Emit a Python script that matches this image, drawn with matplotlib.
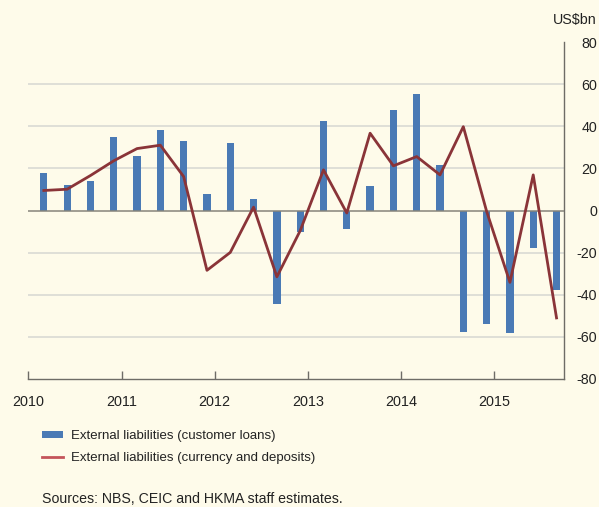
import numpy as np
import matplotlib.pyplot as plt
from matplotlib.patches import Patch
from matplotlib.lines import Line2D

plt.rcParams['font.family'] = ['Liberation Sans', 'DejaVu Sans']

# quarterly data, 2010Q1 - 2015Q3 (US$bn)
quarters = ["2010Q1", "2010Q2", "2010Q3", "2010Q4",
            "2011Q1", "2011Q2", "2011Q3", "2011Q4",
            "2012Q1", "2012Q2", "2012Q3", "2012Q4",
            "2013Q1", "2013Q2", "2013Q3", "2013Q4",
            "2014Q1", "2014Q2", "2014Q3", "2014Q4",
            "2015Q1", "2015Q2", "2015Q3"]
customer_loans = [17.7, 12.2, 13.8, 34.8, 25.9, 38.1, 32.9, 7.8, 31.9, 5.4, -44.4, -10.3,
                  42.5, -8.8, 11.7, 47.6, 55.2, 21.5, -57.6, -53.7, -58.0, -18.0, -37.6]
currency_deposits = [9.5, 10.1, 16.6, 23.6, 29.4, 31.0, 16.1, -28.4, -19.9, 1.6, -31.5, -9.6,
                     19.3, -1.2, 36.7, 21.2, 25.6, 16.9, 39.8, -0.4, -34.1, 16.9, -51.0]
years = [2010, 2011, 2012, 2013, 2014, 2015]
yticks = [-80, -60, -40, -20, 0, 20, 40, 60, 80]

bg = "#FEFBEA"
bar_col = "#4A7AB5"
line_col = "#8A3438"
txt = "#222222"

# position of each quarter on a year axis (plotted at the quarter's last month)
x = np.array([int(q[:4]) + (int(q[-1]) - 1) * 0.25 + 2.0 / 12 for q in quarters])

fig = plt.figure(figsize=(5.99, 5.07), dpi=100, facecolor=bg)
ax = fig.add_axes([28.3 / 599, 1 - 379 / 507, (564.3 - 28.3) / 599, (379 - 42) / 507])
ax.set_facecolor(bg)

for g in [-60, -40, -20, 20, 40, 60]:
    ax.axhline(g, color="#DCDCD6", lw=1.3, zorder=0)

ax.bar(x, customer_loans, width=0.078, color=bar_col, zorder=2)
ax.axhline(0, color="#86847A", lw=1.1, zorder=3)
ax.plot(x, currency_deposits, color=line_col, lw=2.0, zorder=4)

ax.set_xlim(2010, 2015.75)
ax.set_ylim(-80, 80)

for s in ["left", "top"]:
    ax.spines[s].set_visible(False)
for s in ["right", "bottom"]:
    ax.spines[s].set_color("#6E6C66")
    ax.spines[s].set_linewidth(1.0)

ax.set_xticks(years)
ax.set_xticklabels([str(y) for y in years])
ax.tick_params(axis="x", direction="in", length=6, width=1.0, color="#6E6C66",
               labelsize=10.4, labelcolor=txt, pad=11.5)

ax.yaxis.tick_right()
ax.set_yticks(yticks)
ax.set_yticklabels([str(v) for v in yticks])
ax.tick_params(axis="y", length=0, labelsize=10.3, labelcolor=txt, pad=23.8)
for lab in ax.get_yticklabels():
    lab.set_horizontalalignment("right")

fig.text(597 / 599, 1 - 20 / 507, "US$bn", ha="right", va="center", fontsize=10.3, color=txt)

handles = [Patch(facecolor=bar_col, edgecolor="none"),
           Line2D([0], [0], color="#C4545A", lw=2)]
labels = ["External liabilities (customer loans)",
          "External liabilities (currency and deposits)"]
fig.legend(handles, labels, loc="upper left", bbox_to_anchor=(42 / 599, 1 - 430 / 507),
           frameon=False, fontsize=9.55, handlelength=1.56, handleheight=0.5,
           handletextpad=0.64, labelspacing=0.74, borderaxespad=0, borderpad=0,
           labelcolor=txt)

fig.text(42 / 599, 1 - 499 / 507, "Sources: NBS, CEIC and HKMA staff estimates.",
         ha="left", va="center", fontsize=10.2, color=txt)

fig.savefig("out.png", dpi=100, facecolor=bg)
